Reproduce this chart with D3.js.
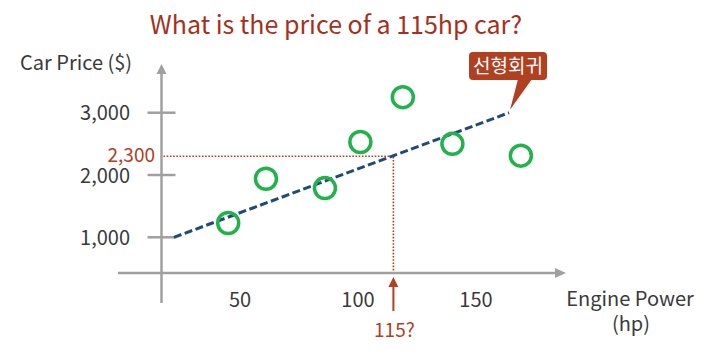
<!DOCTYPE html>
<html>
<head>
<meta charset="utf-8">
<script src="https://cdn.jsdelivr.net/npm/d3@7"></script>
<style>
  body { margin: 0; background: #fff; }
  text { font-family: "Noto Sans CJK KR", "Noto Sans", sans-serif; }
</style>
</head>
<body>
<div id="chart"></div>
<script>
// Data
var carHp = [45, 61, 86, 101, 119, 140, 169];
var carPrice = [1230, 1940, 1790, 2530, 3250, 2500, 2310];
var regHp = [22, 164];
var regPrice = [1000, 3000];
var yTicks = [1000, 2000, 3000];
var xTicks = [50, 100, 150];
var predHp = 115;
var predPrice = 2300;

var width = 704,
    height = 351;

var red = "#b0401f",
    grey = "#a0a0a0",
    ink = "#3a3a3a";

var svg = d3.select("#chart").append("svg")
    .attr("width", width)
    .attr("height", height);

var x = d3.scaleLinear().domain([50, 150]).range([240, 476]);
var y = d3.scaleLinear().domain([1000, 3000]).range([237.3, 112.7]);

// axis positions (schematic)
var axisX = 161.5,
    axisY = 273;

// title
svg.append("text")
    .attr("x", 336)
    .attr("y", 34)
    .attr("text-anchor", "middle")
    .attr("fill", "#a5311c")
    .attr("font-size", 25)
    .text("What is the price of a 115hp car?");

svg.append("text")
    .attr("x", 20)
    .attr("y", 70)
    .attr("fill", ink)
    .attr("font-size", 20)
    .text("Car Price ($)");

// y axis with arrow
svg.append("line")
    .attr("x1", axisX).attr("x2", axisX)
    .attr("y1", 303).attr("y2", 72)
    .attr("stroke", grey).attr("stroke-width", 2.5);
svg.append("path")
    .attr("d", "M" + (axisX - 5) + ",74 L" + axisX + ",64 L" + (axisX + 5) + ",74 Z")
    .attr("fill", grey);

// x axis with arrow
svg.append("line")
    .attr("x1", 118).attr("x2", 556)
    .attr("y1", axisY).attr("y2", axisY)
    .attr("stroke", grey).attr("stroke-width", 2.5);
svg.append("path")
    .attr("d", "M555," + (axisY - 5) + " L566," + axisY + " L555," + (axisY + 5) + " Z")
    .attr("fill", grey);

// y ticks
svg.selectAll(".ytick")
    .data(yTicks)
  .enter().append("line")
    .attr("class", "ytick")
    .attr("x1", axisX - 14).attr("x2", axisX + 14)
    .attr("y1", function(d) { return y(d); })
    .attr("y2", function(d) { return y(d); })
    .attr("stroke", grey).attr("stroke-width", 2.5);

svg.selectAll(".ylabel")
    .data(yTicks)
  .enter().append("text")
    .attr("class", "ylabel")
    .attr("x", 130)
    .attr("y", function(d) { return y(d) + 7.5; })
    .attr("text-anchor", "end")
    .attr("fill", ink)
    .attr("font-size", 20)
    .text(function(d) { return d3.format(",")(d); });

svg.selectAll(".xlabel")
    .data(xTicks)
  .enter().append("text")
    .attr("class", "xlabel")
    .attr("x", function(d) { return x(d); })
    .attr("y", 307)
    .attr("text-anchor", "middle")
    .attr("fill", ink)
    .attr("font-size", 20)
    .text(function(d) { return d; });

svg.append("text")
    .attr("x", 630).attr("y", 306)
    .attr("text-anchor", "middle")
    .attr("fill", ink)
    .attr("font-size", 20)
    .text("Engine Power");
svg.append("text")
    .attr("x", 631).attr("y", 331)
    .attr("text-anchor", "middle")
    .attr("fill", ink)
    .attr("font-size", 20)
    .text("(hp)");

// prediction guide lines
svg.append("path")
    .attr("d", "M" + (axisX + 2) + "," + y(predPrice) +
               " H" + x(predHp) + " V" + (axisY - 1))
    .attr("fill", "none")
    .attr("stroke", red)
    .attr("stroke-width", 1.6)
    .attr("stroke-dasharray", "1.6,1.6");

svg.append("text")
    .attr("x", 155)
    .attr("y", y(predPrice) + 6)
    .attr("text-anchor", "end")
    .attr("fill", red)
    .attr("font-size", 19)
    .text(d3.format(",")(predPrice));

// arrow under x axis
svg.append("line")
    .attr("x1", x(predHp)).attr("x2", x(predHp))
    .attr("y1", 311).attr("y2", 284)
    .attr("stroke", red).attr("stroke-width", 2);
svg.append("path")
    .attr("d", "M" + (x(predHp) - 5) + ",287 L" + x(predHp) + ",277 L" + (x(predHp) + 5) + ",287 Z")
    .attr("fill", red);
svg.append("text")
    .attr("x", x(predHp) + 1)
    .attr("y", 337)
    .attr("text-anchor", "middle")
    .attr("fill", red)
    .attr("font-size", 19)
    .text(predHp + "?");

// regression line
var regLine = d3.line()
    .x(function(d) { return x(d[0]); })
    .y(function(d) { return y(d[1]); });

svg.append("path")
    .datum(d3.zip(regHp, regPrice))
    .attr("d", regLine)
    .attr("fill", "none")
    .attr("stroke", "#1f4a7c")
    .attr("stroke-width", 3)
    .attr("stroke-dasharray", "8,3.5");

// data points
svg.selectAll(".pt")
    .data(d3.zip(carHp, carPrice))
  .enter().append("circle")
    .attr("class", "pt")
    .attr("cx", function(d) { return x(d[0]); })
    .attr("cy", function(d) { return y(d[1]); })
    .attr("r", 10.5)
    .attr("fill", "none")
    .attr("stroke", "#22b24c")
    .attr("stroke-width", 3.5);

// callout
var tipX = x(regHp[1]) + 1,
    tipY = y(regPrice[1]) - 3;
svg.append("path")
    .attr("d", "M" + (tipX + 8) + ",79 L" + tipX + "," + tipY + " L" + (tipX + 22) + ",79 Z")
    .attr("fill", red);
svg.append("rect")
    .attr("x", 469).attr("y", 52)
    .attr("width", 78).attr("height", 28)
    .attr("rx", 4)
    .attr("fill", red);
svg.append("text")
    .attr("x", 508).attr("y", 73)
    .attr("text-anchor", "middle")
    .attr("fill", "#fff")
    .attr("font-size", 19)
    .text("선형회귀");
</script>
</body>
</html>
